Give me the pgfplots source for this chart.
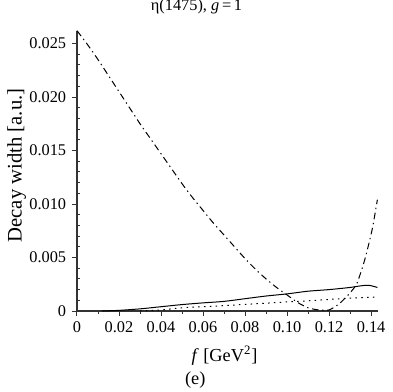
\documentclass[border=0pt]{standalone}
\usepackage{fontspec}
\setmainfont{Liberation Serif}
\usepackage{pgfplots}
\pgfplotsset{compat=1.18}

\begin{document}
\begin{tikzpicture}
  \path[use as bounding box] (-46.2pt,-48.6pt) rectangle (189pt,186.6pt);
  \begin{axis}[
    scale only axis,
    width=180.6pt, height=168pt,
    xmin=0, xmax=0.1433,
    ymin=0, ymax=0.02617,
    axis x line*=bottom, axis y line*=left,
    axis line style={-, line width=0.8pt, black!80},
    clip=false,
    scaled ticks=false,
    xtick={0,0.02,0.04,0.06,0.08,0.10,0.12,0.14},
    xticklabels={0,0.02,0.04,0.06,0.08,0.10,0.12,0.14},
    ytick={0,0.005,0.010,0.015,0.020,0.025},
    yticklabels={0,0.005,0.010,0.015,0.020,0.025},
    minor x tick num=1, minor y tick num=4,
    tick align=outside,
    major tick length=3pt, minor tick length=2pt,
    minor y tick style={xshift=2pt},
    tick style={black!80, line width=0.6pt},
    tick label style={font=\fontsize{9.8}{11}\selectfont},
    /pgf/number format/assume math mode=true,
    title={η(1475), \textit{g}\,=\,1},
    title style={at={(axis description cs:0.397,1.05)}, anchor=center,
      font=\fontsize{9.8}{11}\selectfont},
    xlabel={\textit{f} [GeV\textsuperscript{2}]},
    xlabel style={at={(axis description cs:0.49,-0.16)}, anchor=center,
      font=\fontsize{11}{13}\selectfont},
    ylabel={Decay width [a.u.]},
    ylabel style={at={(axis description cs:-0.2,0.52)}, anchor=center,
      font=\fontsize{12.4}{14}\selectfont},
  ]
  % dash-dotted curve
  \addplot[black, line width=0.6pt, smooth, tension=0.4,
    dash pattern=on 4pt off 2.2pt on 0.8pt off 2.2pt] coordinates {
    (0,0.0262) (0.005,0.0249) (0.01,0.0235) (0.015,0.0220) (0.02,0.0205)
    (0.025,0.0190) (0.03,0.0175) (0.035,0.0161) (0.04,0.0147) (0.045,0.0133)
    (0.05,0.0119) (0.055,0.0106) (0.06,0.0094) (0.065,0.0082) (0.07,0.0071)
    (0.075,0.0060) (0.08,0.0049) (0.085,0.0039) (0.09,0.0030) (0.095,0.0022)
    (0.1,0.0015) (0.105,0.0008) (0.11,0.0003) (0.115,0.0001) (0.12,0.0001)
    (0.125,0.0007) (0.13,0.0017) (0.1333,0.0026) (0.137,0.0048)
    (0.1405,0.0076) (0.143,0.0104)};
  % solid curve
  \addplot[black, line width=0.6pt, smooth] coordinates {
    (0.012,0) (0.02,0.00006) (0.03,0.0002) (0.04,0.0004) (0.05,0.0006)
    (0.06,0.00076) (0.07,0.0009) (0.08,0.00115) (0.09,0.0014) (0.1,0.0016)
    (0.11,0.00185) (0.12,0.0020) (0.13,0.0022) (0.135,0.00235)
    (0.139,0.0024) (0.143,0.0022)};
  % dotted curve
  \addplot[black, line width=0.6pt, smooth, dash pattern=on 0.9pt off 2.6pt] coordinates {
    (0.03,0) (0.04,0.0001) (0.05,0.0003) (0.06,0.0004) (0.07,0.0005)
    (0.08,0.00062) (0.09,0.00073) (0.1,0.00085) (0.11,0.00095)
    (0.12,0.00108) (0.13,0.0012) (0.143,0.0013)};
  \node[font=\fontsize{11}{13}\selectfont] at (axis description cs:0.393,-0.246) {(e)};
  \end{axis}
\end{tikzpicture}
\end{document}
